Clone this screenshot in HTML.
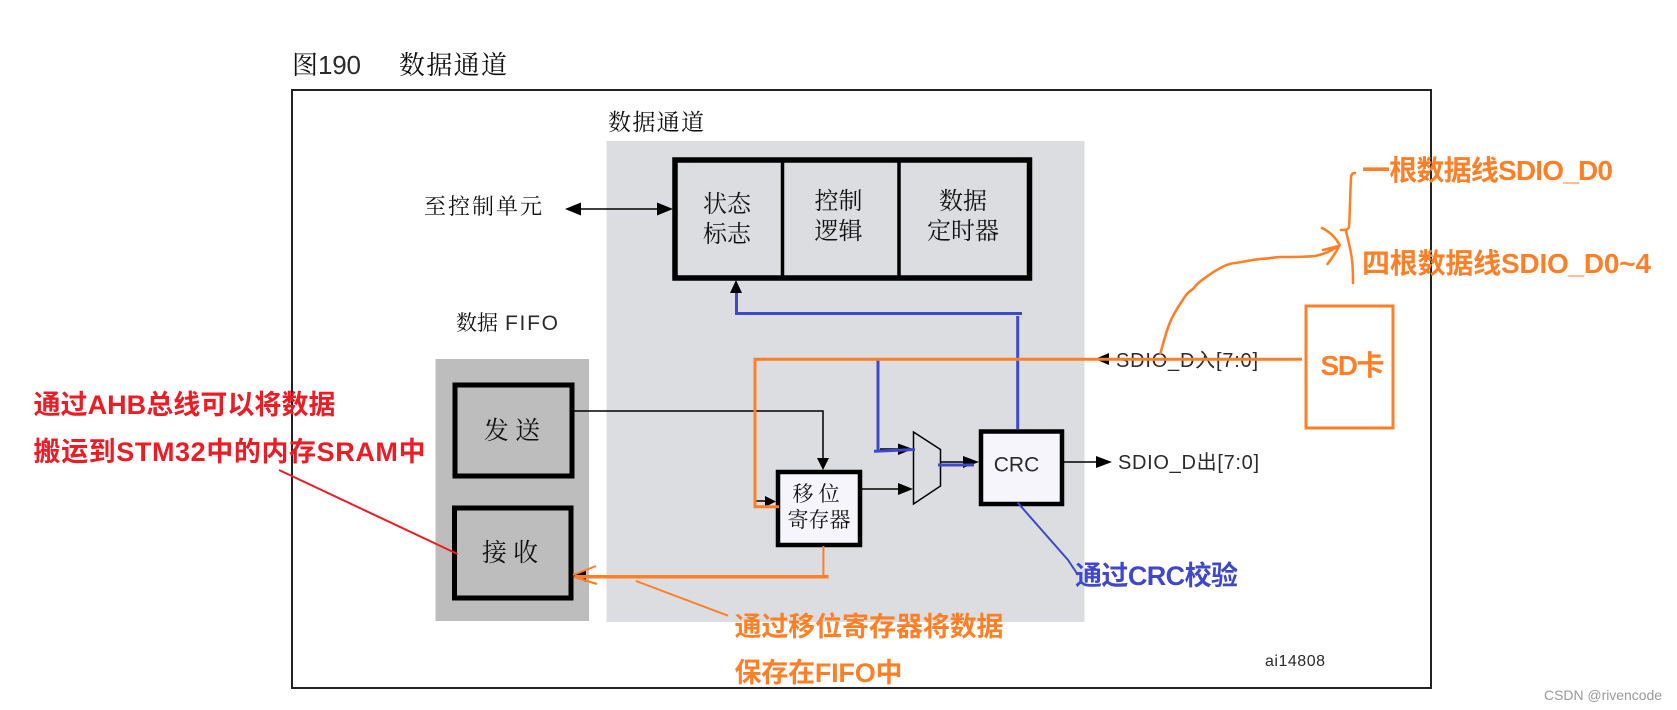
<!DOCTYPE html>
<html lang="zh">
<head>
<meta charset="utf-8">
<title>数据通道</title>
<style>
html,body{margin:0;padding:0;background:#fff;width:1677px;height:710px;overflow:hidden}
svg{display:block}
.s{font-family:"Liberation Serif","Noto Serif CJK SC",serif;fill:#111}
.a{font-family:"Liberation Sans","Noto Sans CJK SC",sans-serif;fill:#2a2a2a}
.b{font-family:"Liberation Sans","Noto Sans CJK SC",sans-serif;font-weight:700}
.o{fill:#ff7f27}.r{fill:#ed1c24}.u{fill:#3f48cc}
</style>
</head>
<body>
<svg width="1677" height="710" viewBox="0 0 1677 710" xmlns="http://www.w3.org/2000/svg">
<rect width="1677" height="710" fill="#fff"/>
<text x="292" y="74" font-size="26" class="s" textLength="26">图</text>
<text x="318" y="74" font-size="26" class="a" textLength="43">190</text>
<text x="399" y="74" font-size="26" class="s" textLength="108">数据通道</text>
<rect x="292" y="90" width="1139" height="598" fill="#fff" stroke="#222" stroke-width="2"/>
<rect x="606.5" y="141" width="478" height="481" fill="#dcdde0"/>
<rect x="435.5" y="359" width="153.5" height="262" fill="#bdbdbd"/>
<text x="608" y="130" font-size="23" class="s" textLength="96">数据通道</text>
<text x="456" y="330" font-size="21" class="s" textLength="42">数据</text>
<text x="505" y="330" font-size="21" class="a" textLength="53">FIFO</text>
<text x="424" y="214" font-size="22" class="s" textLength="118">至控制单元</text>
<rect x="675" y="160" width="354.5" height="118" fill="#dcdde0" stroke="#000" stroke-width="5.5"/>
<path d="M782.5 160V278M899 160V278" stroke="#000" stroke-width="3.5" fill="none"/>
<g class="s" font-size="24" text-anchor="middle">
<text x="727" y="212">状态</text><text x="727" y="242">标志</text>
<text x="838.5" y="209">控制</text><text x="838.5" y="239">逻辑</text>
<text x="963" y="209">数据</text><text x="963" y="239">定时器</text>
</g>
<rect x="455" y="385" width="117" height="91" fill="#bdbdbd" stroke="#000" stroke-width="5"/>
<rect x="454.5" y="508" width="116.5" height="90" fill="#bdbdbd" stroke="#000" stroke-width="5"/>
<text x="512" y="439" font-size="25" class="s" text-anchor="middle">发 送</text>
<text x="510" y="561" font-size="25" class="s" text-anchor="middle">接 收</text>
<path d="M574 411H823V460" fill="none" stroke="#000" stroke-width="1.5"/>
<path d="M817 458H829L823 470Z" fill="#000"/>
<rect x="778" y="472" width="82" height="73" fill="#f5f5fb" stroke="#000" stroke-width="4.5"/>
<text x="816" y="501" font-size="21" class="s" text-anchor="middle">移 位</text>
<text x="819" y="527" font-size="21" class="s" text-anchor="middle">寄存器</text>
<rect x="981" y="431.5" width="81" height="72.5" fill="#f5f5fb" stroke="#000" stroke-width="4.5"/>
<text x="1016.5" y="471.5" font-size="21" class="a" text-anchor="middle">CRC</text>
<path d="M913.5 432L940.5 449.5V486L913.5 504Z" fill="#dcdde0" stroke="#000" stroke-width="1.5"/>
<path d="M862 489H903M941 462H969M1064 462H1102M880 449H903M578 209H660M756 501H766M1109 359H1120" stroke="#000" stroke-width="1.5" fill="none"/>
<path d="M913 489L898 483V495ZM979 462L963 456V468ZM1112 462L1096 456V468ZM913 449L898 443.500V455ZM565 209L581 202.500V215.500ZM673 209L657 202.500V215.500ZM776 501.500L765 496V507ZM736 280L730 293H742ZM1095 359L1109 353V365ZM573 576L586 570V582Z" fill="#000"/>
<text x="1116" y="367" font-size="20" class="a" textLength="142">SDIO_D入[7:0]</text>
<text x="1118" y="469" font-size="20" class="a" textLength="141">SDIO_D出[7:0]</text>
<text x="1265" y="666" font-size="16" class="a" textLength="60">ai14808</text>
<path d="M736.500 293V313.500H1022M1017.700 316V429M878 360V451M874 451.300L915 449.500M938 465H974" fill="none" stroke="#3f48cc" stroke-width="3"/>
<path d="M1017.700 502.700L1068 560L1078 575" fill="none" stroke="#3f48cc" stroke-width="2"/>
<path d="M1302 359.300H755V506.700H779" fill="none" stroke="#ff7f27" stroke-width="3"/>
<path d="M823.400 546V575" fill="none" stroke="#ff7f27" stroke-width="2"/>
<path d="M828.600 576.700H575" fill="none" stroke="#ff7f27" stroke-width="3.500"/>
<path d="M573 575L596 566M574 577L597 584" fill="none" stroke="#ff7f27" stroke-width="2"/>
<path d="M636 581L728 615.700" fill="none" stroke="#ff7f27" stroke-width="2"/>
<path d="M279 470L457.500 554" fill="none" stroke="#ed1c24" stroke-width="2"/>
<rect x="1306" y="306" width="87" height="122" fill="none" stroke="#ff7f27" stroke-width="3"/>
<text x="1320.500" y="375" font-size="28" class="b o" textLength="64">SD卡</text>
<path d="M1160.500 353C1164 340 1168 325 1173 316C1177 308 1181 303 1184 298C1187 293 1190 291 1193 289C1198 282 1205 278 1212 273C1220 268 1226 264 1235 263C1244 262 1250 260 1260 259C1268 259 1274 257 1281 257C1292 257 1305 257 1315 256C1326 254 1333 250 1339.600 245M1322 228C1330 232 1336 238 1339.600 245C1337 251 1332 258 1327.500 264M1323 250C1328 249 1334 247 1339 246" fill="none" stroke="#ff7f27" stroke-width="2.600" stroke-linecap="round"/>
<path d="M1355 173C1352 173 1351 175 1351 178C1350 195 1350 212 1349 227C1348 230 1345 230 1341 230M1346 231C1348 240 1351 250 1352 260C1353 268 1353 275 1353 283" fill="none" stroke="#ff7f27" stroke-width="2.500" stroke-linecap="round"/>
<text x="1362" y="180" font-size="28" class="b o" textLength="251">一根数据线SDIO_D0</text>
<text x="1362" y="273" font-size="28" class="b o" textLength="289">四根数据线SDIO_D0~4</text>
<text x="33.500" y="414" font-size="27" class="b r" textLength="302">通过AHB总线可以将数据</text>
<text x="33.500" y="461" font-size="27" class="b r" textLength="392">搬运到STM32中的内存SRAM中</text>
<text x="1075" y="585" font-size="27" class="b u" textLength="163">通过CRC校验</text>
<text x="734.500" y="636" font-size="27" class="b o" textLength="269">通过移位寄存器将数据</text>
<text x="734.500" y="682" font-size="27" class="b o" textLength="168">保存在FIFO中</text>
<text x="1544" y="700" font-size="14" font-family="Liberation Sans, sans-serif" fill="#999" textLength="118">CSDN @rivencode</text>
</svg>
</body>
</html>
